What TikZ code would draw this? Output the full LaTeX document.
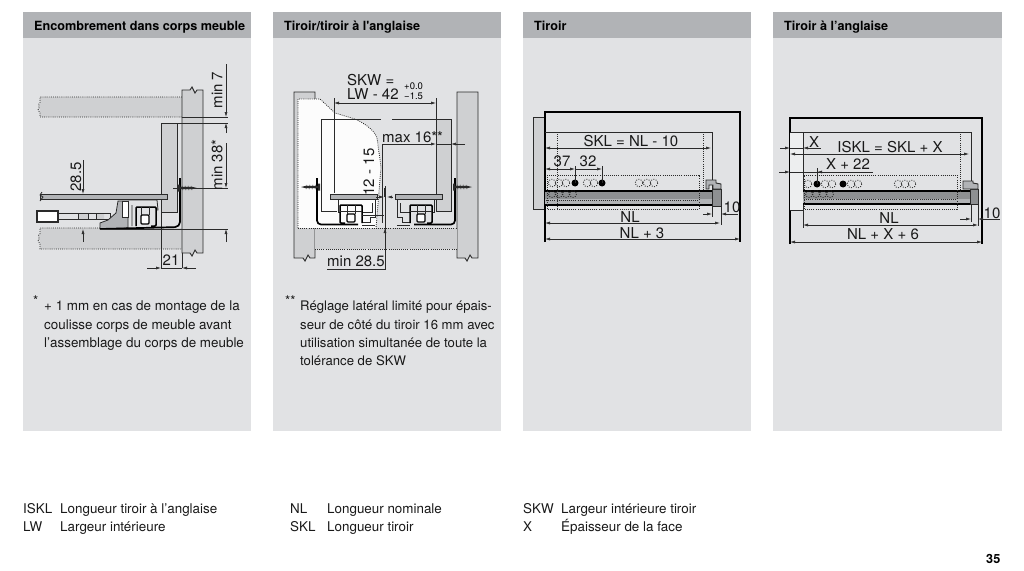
\documentclass[tikz,border=0pt]{standalone}
\usepackage{fontspec}
\usepackage{xcolor}
\usepackage{tikz}
\usetikzlibrary{positioning, calc, arrows.meta}
\newfontfamily\helv{TeX Gyre Heros}
\definecolor{bodygrey}{HTML}{E1E2E4}
\definecolor{headgrey}{HTML}{B1B3B6}
\definecolor{wallgrey}{HTML}{CFD0D2}
\definecolor{railgrey}{HTML}{8E9092}
\definecolor{inkgrey}{HTML}{2A2A2A}
\tikzset{
  panelbody/.style={fill=bodygrey, draw=none},
  panelhead/.style={fill=headgrey, draw=none},
  headtext/.style={font=\helv\bfseries\fontsize{12.65}{15}\selectfont, anchor=base west, inner sep=0pt, text=black},
  notetext/.style={font=\helv\fontsize{13.4}{15}\selectfont, anchor=base west, inner sep=0pt, text=black!90},
  notetight/.style={notetext, font=\helv\fontsize{13.15}{15}\selectfont},
  dimtext/.style={font=\helv\fontsize{15}{18}\selectfont, inner sep=0pt, text=black!90},
  wall/.style={fill=wallgrey, draw=inkgrey, line width=.9pt},
  outline/.style={draw=inkgrey, line width=.8pt},
  heavy/.style={draw=black, line width=1.5pt},
  hidden/.style={draw=inkgrey, line width=.8pt, dash pattern=on .9pt off 1.2pt},
  dim/.style={draw=inkgrey, line width=.6pt},
  tip/.style={dim, -{Latex[length=5pt,width=3pt]}},
  tips/.style={dim, {Latex[length=5pt,width=3pt]}-{Latex[length=5pt,width=3pt]}},
  pics/screwright/.style={code={
    \fill[inkgrey] (0,-3.5) -- (2,-3.5) -- (2,-1.2) -- (15,-1) -- (19,0) -- (15,1) -- (2,1.2) -- (2,3.5) -- (0,3.5) -- cycle;
    \draw[inkgrey, line width=.5pt] (4,-2.2)--(5,2.2) (7,-2.2)--(8,2.2) (10,-2.2)--(11,2.2) (13,-2)--(14,2);
  }},
  pics/railunit/.style={code={
    % plate and thin stepped body
    \filldraw[fill=headgrey, draw=inkgrey, line width=.7pt] (9,194)--(56,194)--(56,199)--(9,199)--cycle;
    \draw[dim, line width=.8pt] (11,199)--(11,217)--(16,217)--(16,222)--(24,222);
    \draw[dim, line width=.8pt] (48,199)--(48,212)--(46,212);
    \draw[dim, line width=.8pt] (14,203)--(14,212)--(24,212);
    % rail box
    \draw[heavy, rounded corners=1pt] (24,223)--(24,205)--(46,205)--(46,223)--(41,223);
    \filldraw[fill=white, draw=black, line width=1.3pt, rounded corners=1pt] (31,214)--(39,214)--(39,222)--(31,222)--cycle;
    \draw[outline] (31,205)--(31,214) (39,205)--(39,214) (24,211)--(46,211);
    % side bracket
    \draw[heavy, line width=1.7pt, rounded corners=4pt] (69,178)--(69,224.5)--(28,224.5);
    \draw[dim] (11,225)--(24,225);
  }}
}
\begin{document}
\begin{tikzpicture}[x=1pt, y=-1pt]
  \useasboundingbox[fill=white] (0,0) rectangle (1024,570);
  % panels
  \path[panelbody] (23,38) rectangle (251,431);
  \path[panelbody] (273,38) rectangle (501,431);
  \path[panelbody] (523,38) rectangle (751,431);
  \path[panelbody] (773,38) rectangle (1002,431);
  \path[panelhead] (23,12) rectangle (251,37.5);
  \path[panelhead] (273,12) rectangle (501,37.5);
  \path[panelhead] (523,12) rectangle (751,37.5);
  \path[panelhead] (773,12) rectangle (1002,37.5);
  \node[headtext] (headA) at (34,30.5) {Encombrement dans corps meuble};
  \node[headtext] (headB) at (284,30.5) {Tiroir/tiroir à l'anglaise};
  \node[headtext] (headC) at (534,30.5) {Tiroir};
  \node[headtext] (headD) at (784,30.5) {Tiroir à l’anglaise};

  % ---- first panel
  \path[fill=wallgrey] (40,97) rectangle (182,117);
  \path[fill=wallgrey] (40,228) rectangle (182,249);
  \draw[hidden] (182,97)--(40,97)--(40,103) .. controls (36,105) and (42,107) .. (38,109) .. controls (38,111) and (40,112) .. (40,113)--(40,117)--(182,117);
  \draw[hidden] (100,228)--(40,228)--(40,234) .. controls (36,236) and (42,238) .. (38,240) .. controls (38,242) and (40,243) .. (40,244)--(40,249)--(182,249);
  \draw[wall] (182,253)--(190,253)--(192,256)--(195,250)--(197,253)--(203,253)--(203,90)--(197,90)--(195,93)--(192,87)--(190,90)--(182,90)--cycle;
  \filldraw[fill=wallgrey, draw=inkgrey, line width=.8pt] (161,123)--(177,123)--(177,212)--(161,212)--cycle;
  \draw[dim] (161,212)--(161,268) (182,253)--(182,268);
  \filldraw[fill=headgrey, draw=inkgrey, line width=.7pt] (40,194)--(167,194)--(167,199)--(40,199)--cycle;
  \draw[line width=.8pt, draw=inkgrey] (42,192)--(40,195)--(43,197)--(40,201);
  % runner and fitting
  \fill[wallgrey] (78,213) rectangle (88,219) (96,213) rectangle (104,219);
  \draw[outline] (58,213)--(110,213)--(110,219)--(58,219) (78,213)--(78,219) (88,213)--(88,219) (96,213)--(96,219);
  \filldraw[fill=white, draw=inkgrey, line width=1.3pt] (37,211)--(58,211)--(58,222)--(37,222)--cycle;
  \filldraw[fill=headgrey, draw=inkgrey, line width=.8pt] (100,229)--(100,223)--(108,220)--(116,213)--(118,201)--(128,201)--(128,228)--cycle;
  \filldraw[fill=white, draw=inkgrey, line width=.8pt] (122,201)--(128,201)--(128,217)--(122,217)--cycle;
  \draw[dim, line width=.8pt] (128,200)--(157,200)--(158,210)--(156,210) (132,205)--(132,226);
  \draw[heavy, rounded corners=1pt] (136,226)--(136,207)--(156,207)--(156,226)--(151,226);
  \filldraw[fill=white, draw=black, line width=1.3pt, rounded corners=1pt] (141,215)--(149,215)--(149,224)--(141,224)--cycle;
  \draw[outline] (141,207)--(141,215) (149,207)--(149,215);
  \draw[heavy, line width=1.7pt, rounded corners=5pt] (180,178)--(180,227)--(100,229);
  \pic at (178,188) {screwright};
  % dimensions
  \draw[dim] (182,117)--(228,117) (161,123)--(228,123) (173,188)--(228,188) (100,229)--(228,229);
  \draw[tip] (226,64)--(226,117);
  \draw[tip] (226,133)--(226,123);
  \draw[tip] (226,143)--(226,188);
  \draw[tip] (226,242)--(226,229);
  \draw[tip] (83,160)--(83,194);
  \draw[tip] (83,242)--(83,229);
  \draw[tip] (147,268)--(161,268);
  \draw[tip] (196,268)--(182,268);
  \draw[dim] (161,268)--(182,268);
  \node[dimtext, rotate=90] (minSeven) at (217,90) {min 7};
  \node[dimtext, rotate=90] (minThirtyEight) at (217,165) {min 38*};
  \node[dimtext, rotate=90] (heightA) at (76,177) {28.5};
  \node[dimtext] (widthA) at (171,260) {21};
  % notes of the first panel
  \node[notetext] (starA) at (33,305) {*};
  \node[notetext] (noteA) at (44,310.5) {+ 1 mm en cas de montage de la};
  \node[notetext] (noteB) at (44,329.5) {coulisse corps de meuble avant};
  \node[notetext] (noteC) at (44,347.5) {l’assemblage du corps de meuble};

  % ---- second panel
  \draw[wall] (294,258)--(303,258)--(305,261)--(308,255)--(310,258)--(315,258)--(315,92)--(294,92)--cycle;
  \draw[wall] (457,258)--(465,258)--(467,261)--(470,255)--(472,258)--(478,258)--(478,92)--(457,92)--cycle;
  \path[fill=wallgrey] (315,228) rectangle (457,249);
  \draw[hidden] (315,249)--(457,249);
  \filldraw[fill=wallgrey, draw=inkgrey, line width=.8pt] (436,119)--(451,119)--(451,211)--(436,211)--cycle;
  \path[fill=white!90!bodygrey] (298,99)--(320,99)--(335,113)--(355,119) .. controls (366,124) and (375,131) .. (377,138)--(381,167)--(376,228)--(298,228)--cycle;
  \draw[hidden] (298,228)--(298,99)--(320,99)--(335,113)--(355,119) .. controls (366,124) and (375,131) .. (377,138)--(381,167)--(376,228);
  \draw[hidden] (298,228)--(457,228);
  \draw[outline] (321,119)--(381,119) (392,119)--(451,119) (321,119)--(321,211)--(337,211);
  \draw[dim] (334,98)--(334,193);
  \draw[dim] (436,98)--(436,193);
  \pic at (386,0) {railunit};
  \pic[xscale=-1] at (386,0) {railunit};
  \pic at (453,187) {screwright};
  \pic[xscale=-1] at (320,187) {screwright};
  % dimensions
  \draw[tips] (334,103)--(436,103);
  \draw[tip] (382,223)--(382,144)--(436,144);
  \draw[tip] (465,144)--(451,144);
  \draw[dim] (436,144)--(451,144);
  \draw[dim] (384,188)--(384,197);
  \draw[tip] (376,197)--(384,197);
  \draw[tip] (392,197)--(387,197);
  \draw[dim] (385,186)--(385,269)--(327,269);
  \draw[tip] (385,245)--(385,228);
  \draw[dim] (362,215)--(384,215);
  \node[dimtext, anchor=west] (skwA) at (347,80) {SKW =};
  \node[dimtext, anchor=west] (skwB) at (347,94) {LW - 42};
  \node[font=\helv\fontsize{9.5}{10}\selectfont, inner sep=0pt, anchor=west] (tolUp) at (404,86) {+0.0};
  \node[font=\helv\fontsize{9.5}{10}\selectfont, inner sep=0pt, anchor=west] (tolDown) at (404,96) {−1.5};
  \node[dimtext, anchor=west] (maxSide) at (382,137) {max 16**};
  \node[dimtext, rotate=90] (range) at (369,172) {12 - 15};
  \node[dimtext, anchor=west] (minBase) at (327,261) {min 28.5};
  % notes of the second panel
  \node[notetext] (starB) at (285,305) {**};
  \node[notetight] (noteD) at (300,310.5) {Réglage latéral limité pour épais-};
  \node[notetight] (noteE) at (300,329.5) {seur de côté du tiroir 16 mm avec};
  \node[notetight] (noteF) at (300,347.5) {utilisation simultanée de toute la};
  \node[notetight] (noteG) at (300,365.5) {tolérance de SKW};

  % ---- third panel
  \filldraw[fill=wallgrey, draw=inkgrey, line width=.7pt] (533,117)--(545,117)--(545,209)--(533,209)--cycle;
  \draw[heavy] (545,242)--(545,112)--(740,112)--(740,242);
  \draw[outline, line width=1pt] (545,132)--(712,132)--(712,217);
  \fill[railgrey] (545,191) rectangle (712,199);
  \fill[headgrey] (545,199) rectangle (712,204);
  \draw[heavy] (545,191)--(712,191) (545,205)--(712,205);
  \filldraw[fill=railgrey, draw=inkgrey, line width=.7pt] (712,189)--(721,189)--(721,206)--(712,206)--cycle;
  \filldraw[fill=headgrey, draw=inkgrey, line width=.9pt] (706,180)--(716,180)--(716,183)--(721,184)--(721,189)--(713,189)--(713,185)--(709,185)--(709,189)--(706,189)--cycle;
  \draw[dim] (721,206)--(721,225);
  \draw[hidden] (557,132)--(557,209) (703,132)--(703,190);
  \draw[hidden] (547,175)--(699,175)--(699,209)--(547,209)--cycle;
  \draw[hidden] (546,200)--(699,200);
  \draw[hidden, dash pattern=on 1pt off 1.4pt] (552,183) circle[radius=3.8] (559,183) circle[radius=3.8] (566,183) circle[radius=3.8] (587,183) circle[radius=3.8] (594,183) circle[radius=3.8] (639,183) circle[radius=3.8] (647,183) circle[radius=3.8] (654,183) circle[radius=3.8];
  \draw[hidden, dash pattern=on 1pt off 1.4pt] (552,194) circle[radius=3.5] (559,194) circle[radius=3.5] (566,194) circle[radius=3.5] (573,194) circle[radius=3.5];
  \fill[black] (575,183) circle[radius=3.5] (602,183) circle[radius=3.5];
  % dimensions
  \draw[tips] (545,148)--(711,148);
  \draw[dim] (575,166)--(575,183) (602,166)--(602,183);
  \draw[tips] (545,169)--(575,169);
  \draw[tip] (575,169)--(602,169);
  \draw[tip] (703,214)--(712,214);
  \draw[tip] (727,214)--(721,214);
  \draw[dim] (724,214)--(738,214);
  \draw[tips] (545,223)--(720,223);
  \draw[tips] (545,239)--(740,239);
  \node[dimtext] (sklC) at (631,141) {SKL = NL - 10};
  \node[dimtext] (distA) at (562,161) {37};
  \node[dimtext] (distB) at (588,161) {32};
  \node[dimtext] (endC) at (732,207) {10};
  \node[dimtext] (nlC) at (630,217) {NL};
  \node[dimtext] (nlThree) at (642,233) {NL + 3};

  % ---- fourth panel
  \draw[heavy] (790,244)--(790,118)--(982,118)--(982,244);
  \path[fill=bodygrey!60!white] (790,132) rectangle (803,210);
  \draw[outline, line width=1pt] (790,132)--(971,132)--(971,222);
  \draw[outline, line width=1pt] (803,132)--(803,228) (790,210)--(803,210);
  \fill[railgrey] (803,191) rectangle (970,199);
  \fill[headgrey] (803,199) rectangle (970,203);
  \draw[heavy] (803,191)--(970,191) (803,204)--(970,204);
  \filldraw[fill=railgrey, draw=inkgrey, line width=.7pt] (970,189)--(978,189)--(978,204)--(970,204)--cycle;
  \filldraw[fill=headgrey, draw=inkgrey, line width=.9pt] (963,181)--(973,181)--(973,183)--(978,184)--(978,189)--(963,189)--(963,186)--cycle;
  \draw[dim] (978,204)--(978,226);
  \draw[hidden] (960,132)--(960,192);
  \draw[hidden] (804,175)--(957,175)--(957,209)--(804,209)--cycle;
  \draw[hidden] (804,199)--(957,199);
  \draw[hidden, dash pattern=on 1pt off 1.4pt] (808,184) circle[radius=3.8] (825,184) circle[radius=3.8] (832,184) circle[radius=3.8] (851,184) circle[radius=3.8] (858,184) circle[radius=3.8] (898,184) circle[radius=3.8] (905,184) circle[radius=3.8] (912,184) circle[radius=3.8];
  \draw[hidden, dash pattern=on 1pt off 1.4pt] (809,194) circle[radius=3.5] (816,194) circle[radius=3.5] (823,194) circle[radius=3.5] (830,194) circle[radius=3.5];
  \fill[black] (817,184) circle[radius=3.5] (843,184) circle[radius=3.5];
  % dimensions
  \draw[dim] (810,148)--(821,148) (817,172)--(873,172);
  \draw[tip] (780,148)--(790,148);
  \draw[dim] (790,148)--(803,148);
  \draw[tip] (810,148)--(803,148);
  \draw[tips] (790,154)--(969,154);
  \draw[tip] (779,172)--(790,172);
  \draw[dim] (790,172)--(817,172);
  \draw[tip] (824,172)--(817,172);
  \draw[dim] (817,168)--(817,184);
  \draw[tips] (803,225)--(978,225);
  \draw[tip] (960,219)--(971,219);
  \draw[tip] (988,219)--(978,219);
  \draw[dim] (984,219)--(1000,219);
  \draw[tips] (790,242)--(982,242);
  \node[dimtext] (xD) at (814,142) {X};
  \node[dimtext] (isklD) at (890,147) {ISKL = SKL + X};
  \node[dimtext] (xTwo) at (848,164) {X + 22};
  \node[dimtext] (endD) at (992,213) {10};
  \node[dimtext] (nlD) at (889,218) {NL};
  \node[dimtext] (nlSix) at (883,234) {NL + X + 6};

  % ---- legend
  \node[notetext] (keyA) at (23,513.5) {ISKL};
  \node[notetext] (keyAt) at (60,513.5) {Longueur tiroir à l’anglaise};
  \node[notetext] (keyB) at (23,531.5) {LW};
  \node[notetext] (keyBt) at (60,531.5) {Largeur intérieure};
  \node[notetext] (keyC) at (290,513.5) {NL};
  \node[notetext] (keyCt) at (327,513.5) {Longueur nominale};
  \node[notetext] (keyD) at (290,531.5) {SKL};
  \node[notetext] (keyDt) at (327,531.5) {Longueur tiroir};
  \node[notetext] (keyE) at (523,513.5) {SKW};
  \node[notetext] (keyEt) at (561,513.5) {Largeur intérieure tiroir};
  \node[notetext] (keyF) at (523,531.5) {X};
  \node[notetext] (keyFt) at (561,531.5) {Épaisseur de la face};
  \node[headtext] (pageNum) at (986,563.5) {35};
\end{tikzpicture}
\end{document}
